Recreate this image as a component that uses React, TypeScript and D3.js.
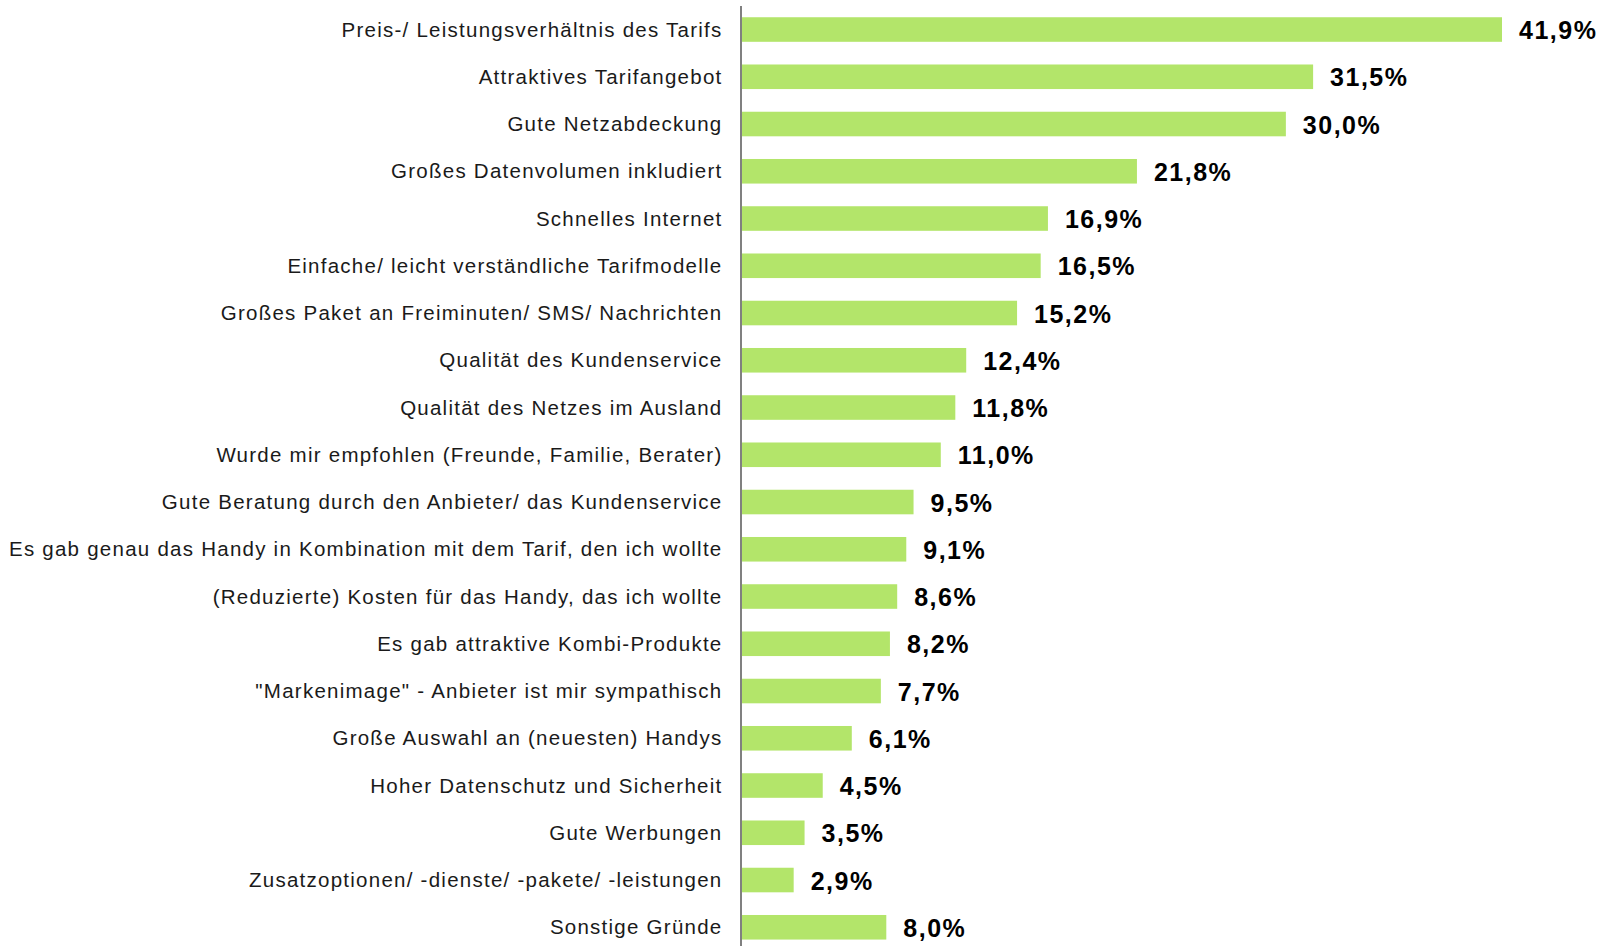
import React from "react";
import * as d3 from "d3";

const categories: string[] = [
  "Preis-/ Leistungsverhältnis des Tarifs",
  "Attraktives Tarifangebot",
  "Gute Netzabdeckung",
  "Großes Datenvolumen inkludiert",
  "Schnelles Internet",
  "Einfache/ leicht verständliche Tarifmodelle",
  "Großes Paket an Freiminuten/ SMS/ Nachrichten",
  "Qualität des Kundenservice",
  "Qualität des Netzes im Ausland",
  "Wurde mir empfohlen (Freunde, Familie, Berater)",
  "Gute Beratung durch den Anbieter/ das Kundenservice",
  "Es gab genau das Handy in Kombination mit dem Tarif, den ich wollte",
  "(Reduzierte) Kosten für das Handy, das ich wollte",
  "Es gab attraktive Kombi-Produkte",
  "\"Markenimage\" - Anbieter ist mir sympathisch",
  "Große Auswahl an (neuesten) Handys",
  "Hoher Datenschutz und Sicherheit",
  "Gute Werbungen",
  "Zusatzoptionen/ -dienste/ -pakete/ -leistungen",
  "Sonstige Gründe",
];

const values: number[] = [
  41.9, 31.5, 30.0, 21.8, 16.9, 16.5, 15.2, 12.4, 11.8, 11.0, 9.5, 9.1, 8.6,
  8.2, 7.7, 6.1, 4.5, 3.5, 2.9, 8.0,
];

const W = 1608;
const H = 946;
const axisX = 741;

export default function App() {
  const x = d3.scaleLinear().domain([0, 41.9]).range([axisX, 1502]);
  const y = d3
    .scaleBand<string>()
    .domain(categories)
    .range([5.9, 5.9 + 47.25 * 20])
    .paddingInner(0.48)
    .paddingOuter(0.24);
  const fmt = (v: number) => v.toFixed(1).replace(".", ",") + "%";
  return (
    <svg
      width={W}
      height={H}
      style={{ position: "absolute", left: 0, top: 0, background: "#fff" }}
    >
      {categories.map((c, i) => {
        const yy = y(c)!;
        const bw = y.bandwidth();
        return (
          <g key={c}>
            <rect
              x={axisX}
              y={yy}
              width={x(values[i]) - axisX}
              height={bw}
              fill="#b3e56a"
            />
            <text
              x={722.5}
              y={yy + bw / 2}
              dy="0.35em"
              textAnchor="end"
              fontFamily="Liberation Sans, Arial, sans-serif"
              fontSize={20.5}
              letterSpacing={1.25}
              fill="#1a1a1a"
            >
              {c}
            </text>
            <text
              x={x(values[i]) + 17}
              y={yy + bw / 2}
              dy="0.38em"
              fontFamily="Liberation Sans, Arial, sans-serif"
              fontSize={25}
              fontWeight="bold"
              letterSpacing={1.5}
              fill="#000"
            >
              {fmt(values[i])}
            </text>
          </g>
        );
      })}
      <line
        x1={axisX}
        x2={axisX}
        y1={6}
        y2={H}
        stroke="#808080"
        strokeWidth={2}
      />
    </svg>
  );
}
